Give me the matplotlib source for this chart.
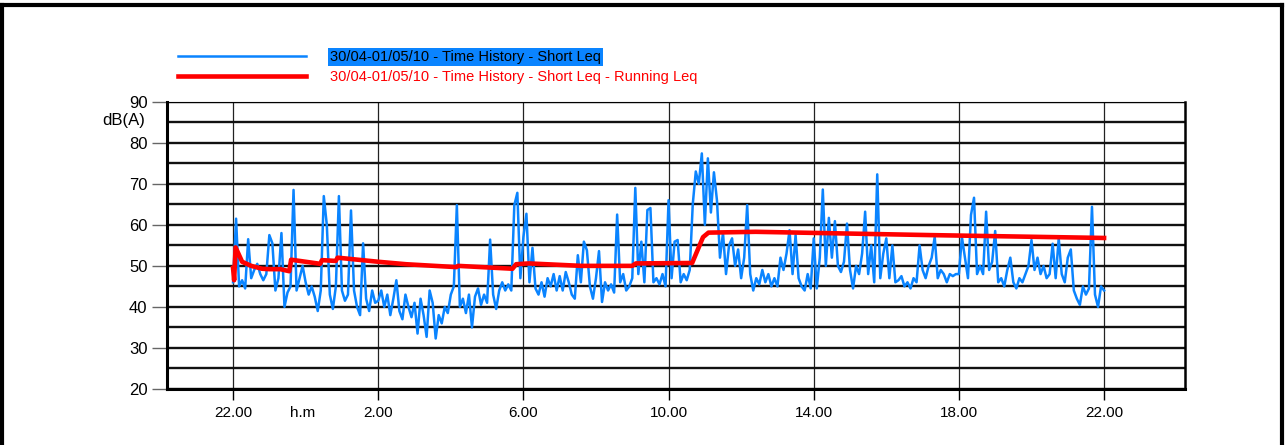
import numpy as np
import matplotlib
matplotlib.use('Agg')
import matplotlib.pyplot as plt
from matplotlib.lines import Line2D

plt.rcParams['font.family'] = ['Liberation Sans', 'DejaVu Sans']

# Short Leq, one value every 5 minutes from 22.00 (hour 0) to 22.00 next day (hour 24)
short_leq = [
    # 22.00
    46, 61.5, 45, 46.5, 44.5, 56.5, 47, 49, 50.5, 48, 46.5, 48,
    # 23.00
    57.5, 55.5, 44, 47, 58, 40, 43.5, 45, 68.5, 44, 47, 50,
    # 0.00
    46, 43, 45, 42.5, 39, 44, 67, 60, 43, 39.5, 45, 67,
    # 1.00
    44, 41.5, 43, 63.5, 44, 40, 38, 55.5, 42, 39, 44, 41,
    # 2.00
    41.5, 44, 40, 43, 38, 42, 46.5, 39, 37, 43, 40, 37.5,
    # 3.00
    41, 33.5, 42, 38, 32.7, 44, 41, 32.3, 38, 36, 40, 38.5,
    # 4.00
    43, 45, 64.8, 40, 42, 38.5, 43, 35, 42.5, 44.5, 40.5, 43,
    # 5.00
    41, 56.4, 43, 39.5, 44, 46, 44, 45.5, 44, 64.8, 67.8, 47,
    # 6.00
    57, 62.7, 46, 54.4, 44.5, 43, 46, 42.5, 47, 45, 48, 44,
    # 7.00
    47.5, 44, 48.5, 46, 43, 42, 52.6, 46, 55.9, 53.8, 45, 42,
    # 8.00
    47, 53.6, 41.2, 46, 44, 45.5, 43.5, 62.5, 46, 48, 44, 45,
    # 9.00
    47, 69, 48, 55.9, 46, 63.6, 64.1, 46, 47, 45.5, 48, 45,
    # 10.00
    66, 47, 55.9, 56.3, 46, 48, 46.5, 49, 65, 73, 70, 77.4,
    # 11.00
    60, 76.2, 63, 72.8, 66, 52, 58, 48, 55, 56.7, 50, 54,
    # 12.00
    47, 52, 64.8, 48, 44, 47, 45.5, 49, 46, 48, 45, 47,
    # 13.00
    45, 52, 49, 53, 58.7, 48, 57.5, 47, 45, 44, 48, 44.5,
    # 14.00
    56.7, 44.5, 52, 68.6, 50, 61.7, 52, 60.9, 50, 48.5, 51, 60.3,
    # 15.00
    49, 44.5, 50, 48, 53, 63.2, 48, 55, 46, 72.3, 47, 53,
    # 16.00
    56.7, 47, 55, 46, 46.5, 47.5, 45, 46, 44.5, 47, 46, 55,
    # 17.00
    49, 47, 50, 52, 57.1, 47, 49, 48, 46, 48, 47.5, 48,
    # 18.00
    48, 57, 52, 47, 62.4, 66.6, 48, 50, 48, 63.2, 49, 51,
    # 19.00
    58.5, 46, 47, 45, 49, 52, 46, 44.5, 47, 46, 48, 50,
    # 20.00
    56.3, 49, 52, 48, 50, 47, 48, 55.4, 47, 56.7, 48, 46,
    # 21.00
    52, 54, 44, 42, 40.5, 45, 43, 44.5, 64.4, 43, 40, 45,
    # 22.00
    44,
]
short_hours = np.arange(len(short_leq)) / 12.0

# Running Leq (hours after 22.00, dB(A))
running_hours = [0, 0.03, 0.07, 0.25, 0.5, 0.8, 1.0, 1.3, 1.55, 1.6, 2.4, 2.45, 2.83, 2.88,
                 4.0, 4.77, 6.15, 6.2, 7.7, 7.8, 8.15, 9.6, 11.0, 11.1, 12.65, 12.95, 13.1,
                 14.4, 19.2, 24]
running_leq = [49.5, 46.5, 54.5, 51, 50, 49.3, 49.2, 49.2, 48.7, 51.5, 50.5, 51.4, 51.2, 52,
               51, 50.4, 49.7, 50, 49.3, 50.4, 50.6, 50, 50, 50.6, 50.7, 57, 58.1,
               58.3, 57.5, 56.8]

tick_hours = [0, 4, 8, 12, 16, 20, 24]
tick_labels = ['22.00', '2.00', '6.00', '10.00', '14.00', '18.00', '22.00']

label_short = '30/04-01/05/10 - Time History - Short Leq'
label_running = '30/04-01/05/10 - Time History - Short Leq - Running Leq'

W, H = 1287, 445
fig = plt.figure(figsize=(W / 100, H / 100), dpi=100)
ax = fig.add_axes([167 / W, 1 - 389 / H, (1185 - 167) / W, (389 - 101.7) / H])

l1, = ax.plot(short_hours, short_leq, color='#0a84ff', lw=1.8, zorder=3)
l2, = ax.plot(running_hours, running_leq, color='#ff0000', lw=3.3, zorder=4)

ax.set_xlim(-1.82, 26.23)
ax.set_ylim(20, 90)
ax.set_xticks(tick_hours)
ax.set_xticklabels(tick_labels)
ax.set_yticks(range(20, 91, 10))
ax.set_yticks(range(25, 90, 5), minor=True)
ax.tick_params(axis='y', which='major', length=11, width=1, color='#666666', pad=3,
               labelsize=12)
ax.tick_params(axis='y', which='minor', length=0)
ax.tick_params(axis='x', which='major', length=8, width=1, color='black', pad=4,
               labelsize=11)

ax.set_axisbelow(True)
ax.grid(axis='y', which='both', color='#111111', lw=1.7)
ax.grid(axis='x', which='major', color='#222222', lw=0.9)

for side, w in [('left', 2.2), ('bottom', 2.2), ('right', 1.8), ('top', 0.8)]:
    ax.spines[side].set_linewidth(w)
    ax.spines[side].set_color('black')

fig.text(145 / W, 1 - 121 / H, 'dB(A)', ha='right', va='center', fontsize=12)
fig.text(303 / W, 1 - 413 / H, 'h.m', ha='center', va='center', fontsize=11)

leg = fig.legend([l1, l2], [label_short, label_running], loc='upper left',
                 bbox_to_anchor=(178 / W, 1 - 50 / H), bbox_transform=fig.transFigure,
                 frameon=False, fontsize=10.5, handlelength=8.8, handletextpad=1.6,
                 labelspacing=0.4, borderpad=0, borderaxespad=0)
texts = leg.get_texts()
texts[0].set_bbox(dict(facecolor='#0a84ff', edgecolor='none', pad=1.5))
texts[1].set_color('#ff0000')

# outer frame
for xs, ys in [([2 / W, 2 / W], [0, 1 - 5 / H]),
               ([2 / W, 1282 / W], [1 - 5 / H, 1 - 5 / H]),
               ([1282 / W, 1282 / W], [1 - 5 / H, 0])]:
    fig.add_artist(Line2D(xs, ys, color='black', lw=3, transform=fig.transFigure))

fig.savefig('out.png', dpi=100)
